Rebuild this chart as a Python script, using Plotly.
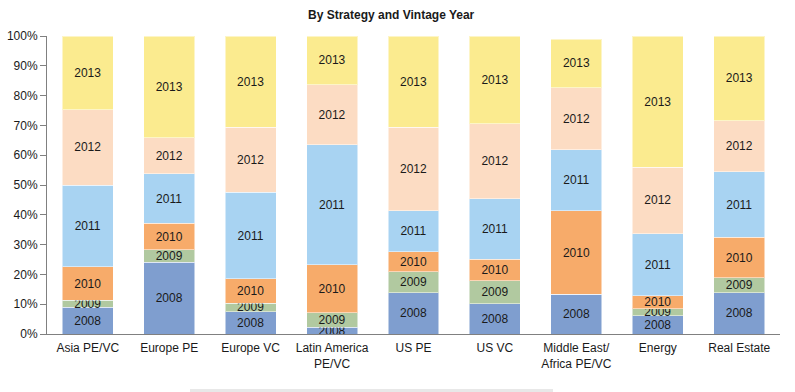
import plotly.graph_objects as go

categories = ["Asia PE/VC", "Europe PE", "Europe VC", "Latin America<br>PE/VC", "US PE",
              "US VC", "Middle East/<br>Africa PE/VC", "Energy", "Real Estate"]
years = ["2008", "2009", "2010", "2011", "2012", "2013"]

v2008 = [8.9, 24.0, 7.5, 2.2, 13.8, 10.1, 13.4, 6.1, 13.8]
v2009 = [2.4, 4.2, 2.8, 4.9, 7.1, 7.7, 0.0, 2.4, 5.1]
v2010 = [11.2, 8.9, 8.3, 16.1, 6.7, 7.3, 27.9, 4.3, 13.5]
v2011 = [27.5, 16.7, 28.9, 40.3, 13.8, 20.3, 20.5, 20.8, 22.0]
v2012 = [25.2, 12.1, 21.8, 20.1, 27.9, 25.2, 20.9, 22.4, 17.1]
v2013 = [24.8, 34.1, 30.7, 16.4, 30.7, 29.4, 16.2, 44.0, 28.5]

series = [v2008, v2009, v2010, v2011, v2012, v2013]
colors = ["#7F9ECF", "#B1C9A0", "#F7AB6A", "#A8D3F2", "#FCDCC3", "#FBEB8F"]

fig = go.Figure()
for yr, vals, col in zip(years, series, colors):
    fig.add_trace(go.Bar(
        x=categories, y=vals, name=yr,
        marker=dict(color=col, line=dict(color="rgba(255,255,255,0.5)", width=1)),
        text=[yr if v > 0 else "" for v in vals],
        textposition="inside", insidetextanchor="middle", textangle=0,
        textfont=dict(family="Liberation Sans, Arial, sans-serif", size=12, color="#1a1a1a"),
        constraintext="none",
    ))

fig.update_layout(
    barmode="stack",
    width=795, height=392,
    margin=dict(l=47, r=15, t=36, b=58),
    paper_bgcolor="white", plot_bgcolor="white",
    bargap=0.375,
    showlegend=False,
    uniformtext=dict(minsize=12, mode="show"),
    font=dict(family="Liberation Sans, Arial, sans-serif", size=12, color="#1a1a1a"),
    title=dict(text="<b>By Strategy and Vintage Year</b>", x=0.492, xanchor="center",
               y=0.963, yanchor="middle", xref="container", yref="container",
               font=dict(size=12, color="#1a1a1a")),
    xaxis=dict(showline=True, linecolor="#808080", linewidth=1, ticks="",
               showgrid=False, tickfont=dict(size=12), automargin=False,
               ticklabelstandoff=3),
    yaxis=dict(range=[0, 100], dtick=10, ticksuffix="%", showline=True,
               linecolor="#808080", linewidth=1, ticks="outside", ticklen=6,
               tickcolor="#808080", showgrid=False, zeroline=False,
               tickfont=dict(size=12), automargin=False),
    shapes=[dict(type="rect", xref="paper", yref="paper",
                 x0=(190 - 47) / 733, x1=(553 - 47) / 733,
                 y0=(334 - 400) / 298, y1=(334 - 389) / 298,
                 fillcolor="#E8E8E8", line=dict(width=0), layer="below")],
)

fig.write_html("out.html", config={"displayModeBar": False},
               post_script="document.body.style.margin='0';document.body.style.padding='0';document.body.style.overflow='hidden';")
